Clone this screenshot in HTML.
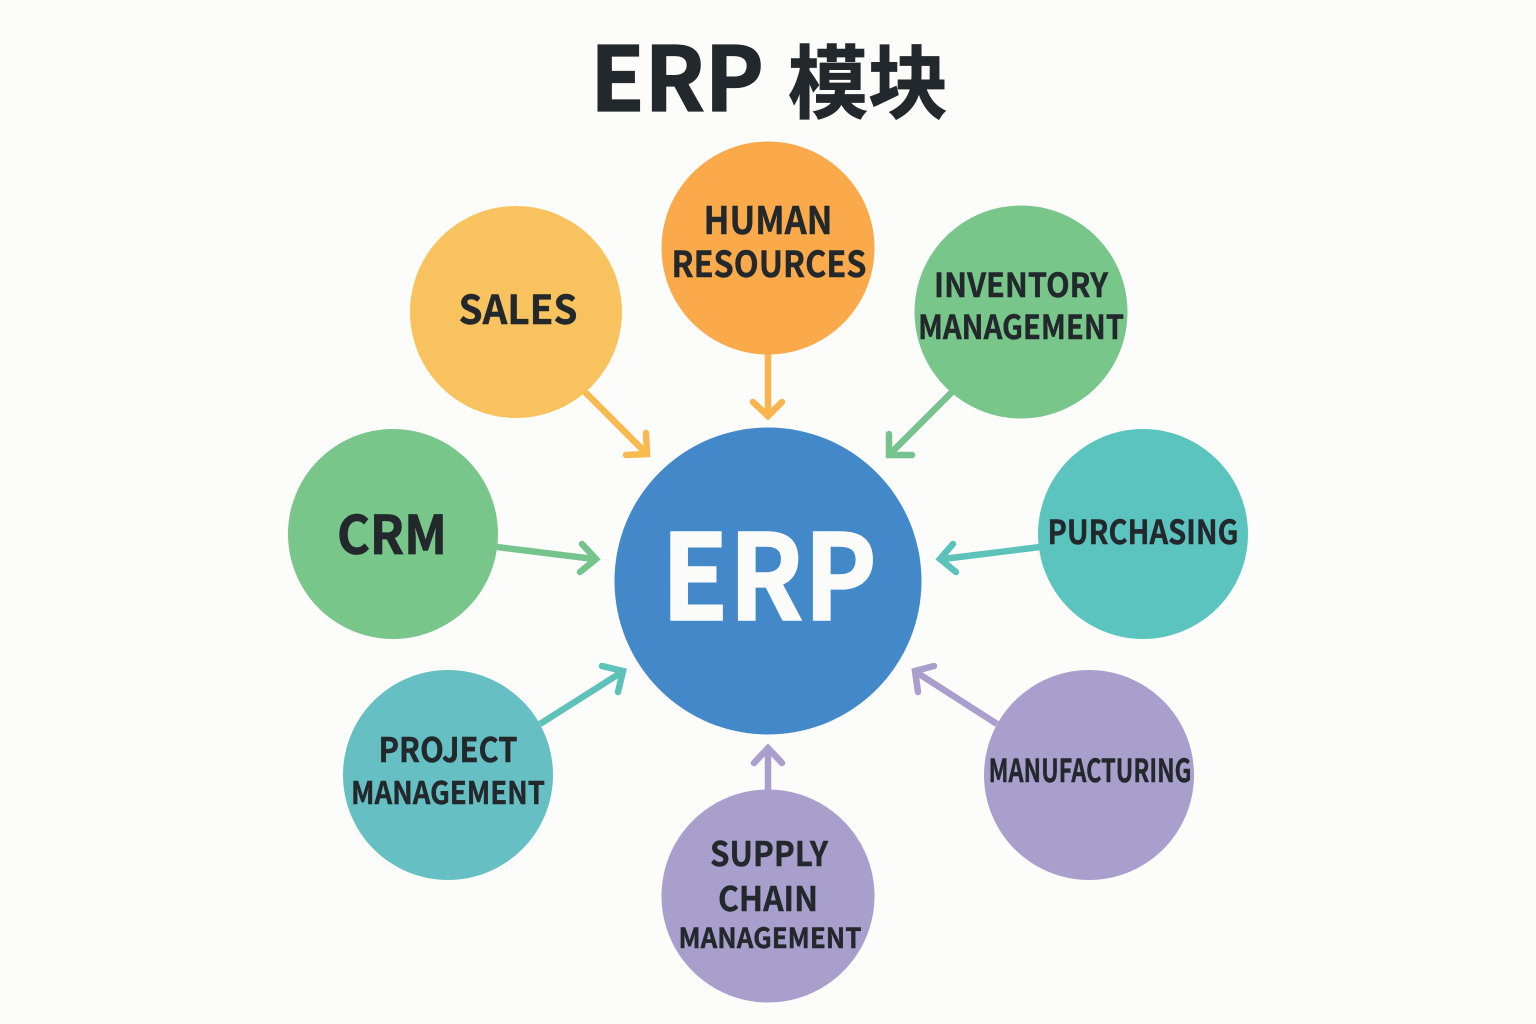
<!DOCTYPE html>
<html>
<head>
<meta charset="utf-8">
<style>
html,body{margin:0;padding:0;background:#fcfcfa;}
svg{display:block;}
text{font-family:"Noto Sans CJK SC","Liberation Sans",sans-serif;font-weight:700;fill:#22282b;stroke:#22282b;stroke-width:0.4;text-anchor:middle;}
</style>
</head>
<body>
<svg width="1536" height="1024" viewBox="0 0 1536 1024" xmlns="http://www.w3.org/2000/svg">
<rect width="1536" height="1024" fill="#fcfcfa"/>
<text x="677" y="111" font-size="89" textLength="174" lengthAdjust="spacing" style="stroke-width:1.2">ERP</text>
<text x="868" y="112" font-size="80" textLength="160" lengthAdjust="spacingAndGlyphs" style="stroke-width:0.8">模块</text>

<g fill="none" stroke-width="6.5" stroke-linecap="round" stroke-linejoin="miter">
<g stroke="#f8b94f"><path d="M585 392L647 454" stroke-linecap="butt"/><path d="M646 433L647 454L626 455"/></g>
<g stroke="#f9b44d"><path d="M768 352V414" stroke-linecap="butt"/><path d="M753 402L768 416L782 402"/></g>
<g stroke="#76c48d"><path d="M952 392L890 454" stroke-linecap="butt"/><path d="M889 434L889 455L912 455"/></g>
<g stroke="#76c48d"><path d="M497 547L594 559" stroke-linecap="butt"/><path d="M582 544L596 559L580 572"/></g>
<g stroke="#5cc2ba"><path d="M1040 547L943 559" stroke-linecap="butt"/><path d="M953 544L940 559L956 572"/></g>
<g stroke="#5cc2ba"><path d="M540 724L622 672" stroke-linecap="butt"/><path d="M602 666L623 671L618 692"/></g>
<g stroke="#a99fcd"><path d="M997 724L916 672" stroke-linecap="butt"/><path d="M934 666L915 671L918 692"/></g>
<g stroke="#a99fcd"><path d="M768 790V750" stroke-linecap="butt"/><path d="M754 763L768 748L782 763"/></g>
</g>

<circle cx="768" cy="581" r="153.5" fill="#4389c9"/>
<circle cx="516" cy="312" r="106" fill="#f8c25f"/>
<circle cx="768" cy="248" r="106.5" fill="#faaa4b"/>
<circle cx="1021" cy="312" r="106.5" fill="#79c68b"/>
<circle cx="393" cy="534" r="105" fill="#79c68b"/>
<circle cx="1143" cy="534" r="105" fill="#5cc4bf"/>
<circle cx="448" cy="775" r="105" fill="#66bfc2"/>
<circle cx="1089" cy="775" r="105" fill="#a99fcd"/>
<circle cx="768" cy="896" r="106.5" fill="#a99fcd"/>

<text x="769" y="620" font-size="119" textLength="216" lengthAdjust="spacingAndGlyphs" style="fill:#fbfbf9;stroke:#fbfbf9;stroke-width:1.5">ERP</text>
<text x="518" y="324" font-size="40" textLength="119" lengthAdjust="spacingAndGlyphs">SALES</text>
<text x="768" y="234" font-size="38" textLength="129" lengthAdjust="spacingAndGlyphs">HUMAN</text>
<text x="769" y="277" font-size="36" textLength="195" lengthAdjust="spacingAndGlyphs">RESOURCES</text>
<text x="1021" y="297" font-size="33" textLength="174" lengthAdjust="spacingAndGlyphs">INVENTORY</text>
<text x="1021" y="339" font-size="33" textLength="206" lengthAdjust="spacingAndGlyphs">MANAGEMENT</text>
<text x="392" y="554" font-size="53" textLength="110" lengthAdjust="spacingAndGlyphs" style="stroke-width:0.8">CRM</text>
<text x="1143" y="544" font-size="33" textLength="191" lengthAdjust="spacingAndGlyphs">PURCHASING</text>
<text x="448" y="762" font-size="34" textLength="139" lengthAdjust="spacingAndGlyphs">PROJECT</text>
<text x="448" y="804" font-size="31" textLength="194" lengthAdjust="spacingAndGlyphs">MANAGEMENT</text>
<text x="1090" y="782" font-size="32" textLength="203" lengthAdjust="spacingAndGlyphs">MANUFACTURING</text>
<text x="769" y="866" font-size="34" textLength="118" lengthAdjust="spacingAndGlyphs">SUPPLY</text>
<text x="768" y="911" font-size="34" textLength="100" lengthAdjust="spacingAndGlyphs">CHAIN</text>
<text x="770" y="948" font-size="28" textLength="183" lengthAdjust="spacingAndGlyphs">MANAGEMENT</text>
</svg>
</body>
</html>
